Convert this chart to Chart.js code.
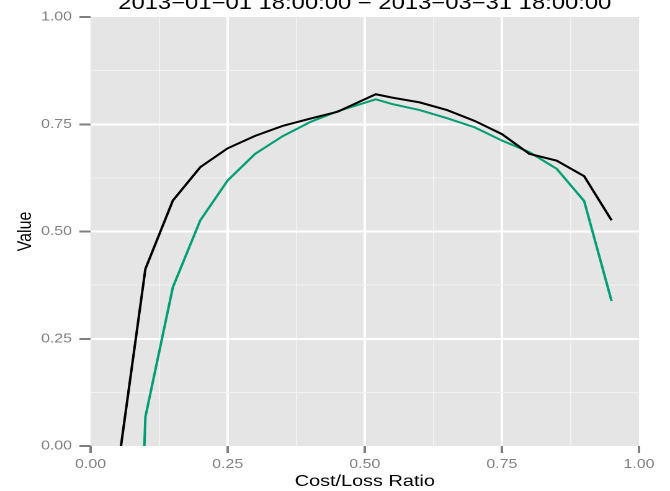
<!DOCTYPE html>
<html>
<head>
<meta charset="utf-8">
<script src="https://cdn.jsdelivr.net/npm/chart.js@4"></script>
<style>
  html, body { margin: 0; padding: 0; background: #fff; overflow: hidden; }
  /* the reference is stretched horizontally, so draw narrow and stretch */
  #wrap { width: 540px; height: 491px; transform: scaleX(1.24074); transform-origin: 0 0; }
  canvas { display: block; }
</style>
</head>
<body>
<div id="wrap"><canvas id="chart" width="540" height="491"></canvas></div>
<script>
const chartTitle = '2013\u221201\u221201 18:00:00 \u2212 2013\u221203\u221231 18:00:00';
const costLoss = [0.05, 0.10, 0.15, 0.20, 0.25, 0.30, 0.35, 0.40, 0.45, 0.52, 0.55, 0.60, 0.65, 0.70, 0.75, 0.80, 0.85, 0.90, 0.95];
const valueBlack = [-0.05, 0.413, 0.572, 0.650, 0.694, 0.723, 0.746, 0.763, 0.779, 0.820, 0.812, 0.801, 0.783, 0.758, 0.727, 0.681, 0.665, 0.629, 0.526];
const valueGreen = [-1.7, 0.068, 0.370, 0.526, 0.619, 0.681, 0.722, 0.755, 0.780, 0.808, 0.797, 0.783, 0.764, 0.743, 0.712, 0.685, 0.646, 0.571, 0.338];
const majorTicks = [0, 0.25, 0.5, 0.75, 1];

const FONT = '"Liberation Sans", Arial, sans-serif';

function isMajor(v){
  return majorTicks.some(m => Math.abs(m - v) < 1e-6);
}
function isEdge(v){
  return Math.abs(v) < 1e-6 || Math.abs(v - 1) < 1e-6;
}

function gridFor(){
  return {
    drawTicks: true,
    tickLength: 7,
    tickWidth: 2,
    color: ctx => {
      const v = ctx.tick ? ctx.tick.value : 0;
      if(isEdge(v)) return 'rgba(0,0,0,0)';
      return isMajor(v) ? '#ffffff' : '#f2f2f2';
    },
    lineWidth: ctx => (ctx.tick && isMajor(ctx.tick.value)) ? 2 : 1,
    tickColor: ctx => (ctx.tick && isMajor(ctx.tick.value)) ? '#7f7f7f' : 'rgba(0,0,0,0)'
  };
}

function tickLabel(v){
  return isMajor(v) ? v.toFixed(2) : '';
}

// grey panel behind the grid
const panelBg = {
  id: 'panelBg',
  beforeDraw(chart){
    const {ctx, chartArea: a} = chart;
    ctx.save();
    ctx.fillStyle = '#e5e5e5';
    ctx.fillRect(a.left, a.top, a.right - a.left, a.bottom - a.top);
    ctx.restore();
  }
};

// title centred on the panel, partly cut by the top edge
const panelTitle = {
  id: 'panelTitle',
  afterDraw(chart){
    const {ctx, chartArea: a} = chart;
    ctx.save();
    ctx.font = '19.2px ' + FONT;
    ctx.fillStyle = '#000';
    ctx.textAlign = 'center';
    ctx.textBaseline = 'alphabetic';
    ctx.fillText(chartTitle, (a.left + a.right) / 2, 9);
    ctx.restore();
  }
};

const yGrid = gridFor();
yGrid.tickLength = 9;

new Chart(document.getElementById('chart').getContext('2d'), {
  type: 'line',
  data: {
    datasets: [
      {
        label: 'black',
        data: costLoss.map((x, i) => ({x: x, y: valueBlack[i]})),
        borderColor: '#000000',
        borderWidth: 2,
        pointRadius: 0,
        tension: 0,
        fill: false,
        clip: 0
      },
      {
        label: 'green',
        data: costLoss.map((x, i) => ({x: x, y: valueGreen[i]})),
        borderColor: '#009e73',
        borderWidth: 2,
        pointRadius: 0,
        tension: 0,
        fill: false,
        clip: 0
      }
    ]
  },
  options: {
    responsive: false,
    animation: false,
    devicePixelRatio: 2,
    layout: { padding: { top: 17, right: 25, bottom: 0, left: 0 } },
    plugins: {
      legend: { display: false },
      tooltip: { enabled: false },
      title: { display: false }
    },
    scales: {
      x: {
        type: 'linear',
        min: 0, max: 1,
        border: { display: false },
        grid: gridFor(),
        ticks: {
          stepSize: 0.125,
          autoSkip: false,
          maxRotation: 0,
          padding: 4,
          color: '#7f7f7f',
          font: { family: FONT, size: 12.8 },
          callback: v => tickLabel(v)
        },
        title: {
          display: true,
          text: 'Cost/Loss Ratio',
          color: '#000',
          font: { family: FONT, size: 16 },
          padding: { top: 1, bottom: 0 }
        },
        afterFit: s => { s.height = 45; }
      },
      y: {
        type: 'linear',
        min: 0, max: 1,
        border: { display: false },
        grid: yGrid,
        ticks: {
          stepSize: 0.125,
          autoSkip: false,
          padding: 6,
          color: '#7f7f7f',
          font: { family: FONT, size: 12.8 },
          callback: v => tickLabel(v)
        },
        title: {
          display: true,
          text: 'Value',
          color: '#000',
          font: { family: FONT, size: 16 },
          padding: { top: 11, bottom: 0 }
        },
        afterFit: s => { s.width = 73; }
      }
    }
  },
  plugins: [panelBg, panelTitle]
});
</script>
</body>
</html>
